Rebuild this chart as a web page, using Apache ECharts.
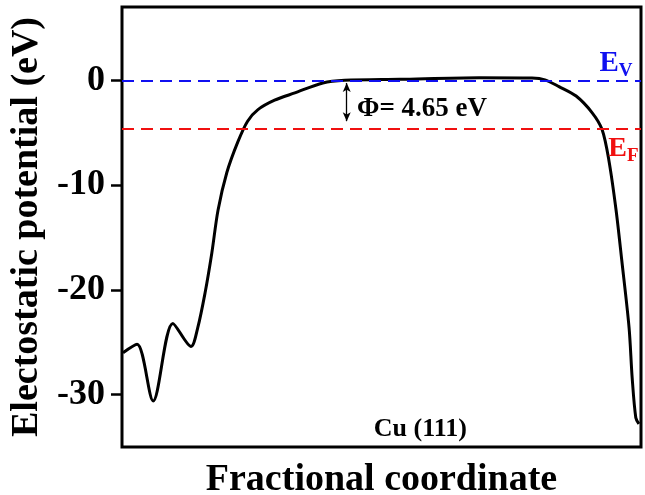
<!DOCTYPE html>
<html>
<head>
<meta charset="utf-8">
<script src="https://cdn.jsdelivr.net/npm/echarts@6/dist/echarts.min.js"></script>
<style>
  html, body { margin: 0; padding: 0; background: #fff; }
  #chart { width: 645px; height: 495px; }
</style>
</head>
<body>
<div id="chart"></div>
<script>
// fractional coordinate along the slab
var xPos = [0.002, 0.029, 0.060, 0.098, 0.133, 0.146, 0.160, 0.173, 0.185, 0.202,
            0.223, 0.242, 0.262, 0.294, 0.333, 0.387, 0.429, 0.535, 0.688, 0.790, 0.815,
            0.842, 0.875, 0.906, 0.925, 0.938, 0.952, 0.963, 0.977, 0.983, 0.990, 0.996];
// electrostatic potential (eV)
var potential = [-26.0, -25.2, -30.6, -23.2, -25.4, -23.6, -20.3, -16.5, -12.4, -8.8,
                 -5.9, -3.9, -2.8, -1.9, -1.2, -0.25, 0.0, 0.1, 0.25, 0.22, 0.05,
                 -0.6, -1.5, -3.1, -4.7, -7.6, -12.4, -17.2, -23.6, -28.4, -32.2, -32.8];
var yTicks = [-30, -20, -10, 0];
var vacuumLevel = 0;
var fermiLevel = -4.65;
var workFunction = '4.65';

var serif = '"Liberation Serif", "Times New Roman", serif';
var lineData = xPos.map(function (x, i) { return [x, potential[i]]; });
var hidden = { color: 'rgba(0,0,0,0)' };

var myChart = echarts.init(document.getElementById('chart'));
var option = {
  animation: false,
  grid: {
    left: 122, right: 4, top: 7, bottom: 48,
    outerBoundsMode: 'none',
    show: true, borderColor: '#000', borderWidth: 3, backgroundColor: 'transparent'
  },
  xAxis: {
    type: 'value', min: 0, max: 1,
    name: 'Fractional coordinate', nameLocation: 'middle', nameGap: 14,
    nameTextStyle: { fontFamily: serif, fontWeight: 'bold', fontSize: 38, color: '#000', verticalAlign: 'top' },
    axisLine: { show: false },
    axisTick: { show: false },
    axisLabel: { show: false },
    splitLine: { show: false }
  },
  yAxis: {
    type: 'value', min: -35, max: 7,
    name: 'Electostatic potential (eV)', nameLocation: 'middle', nameGap: 74,
    nameTextStyle: { fontFamily: serif, fontWeight: 'bold', fontSize: 38, color: '#000' },
    axisLine: { show: false },
    axisTick: { show: true, inside: false, length: 11, customValues: yTicks,
                lineStyle: { color: '#000', width: 2.5 } },
    axisLabel: { customValues: yTicks, margin: 17, fontFamily: serif, fontWeight: 'bold',
                 fontSize: 36, color: '#000' },
    splitLine: { show: false }
  },
  series: [{
    type: 'line',
    data: lineData,
    smooth: 0.3,
    showSymbol: false,
    lineStyle: { color: '#000', width: 3 },
    markLine: {
      silent: true,
      symbol: ['none', 'none'],
      label: { show: false },
      data: [
        { yAxis: vacuumLevel, lineStyle: { color: '#1010f0', type: [12, 7], width: 2 } },
        { yAxis: fermiLevel, lineStyle: { color: '#f01010', type: [12, 7], width: 2 } },
        [
          { coord: [0.433, -0.25], symbol: 'arrow', symbolSize: [6, 9],
            lineStyle: { color: '#000', type: 'solid', width: 1.3 } },
          { coord: [0.433, -3.9], symbol: 'arrow', symbolSize: [6, 9] }
        ]
      ]
    },
    markPoint: {
      silent: true,
      symbol: 'rect',
      symbolSize: 1,
      itemStyle: hidden,
      data: [
        { coord: [0.452, -2.75],
          label: { show: true, formatter: 'Φ= ' + workFunction + ' eV', position: 'right', distance: 0,
                   fontFamily: serif, fontWeight: 'bold', fontSize: 27, color: '#000' } },
        { coord: [0.575, -33.3],
          label: { show: true, formatter: 'Cu (111)', position: 'inside',
                   fontFamily: serif, fontWeight: 'bold', fontSize: 26, color: '#000' } },
        { coord: [0.919, 1.6],
          label: { show: true, formatter: '{e|E}{s|V}', position: 'right', distance: 0,
                   rich: {
                     e: { fontFamily: serif, fontWeight: 'bold', fontSize: 29, color: '#1010f0' },
                     s: { fontFamily: serif, fontWeight: 'bold', fontSize: 19, color: '#1010f0', padding: [16, 0, 0, 0] }
                   } } },
        { coord: [0.936, -6.5],
          label: { show: true, formatter: '{e|E}{s|F}', position: 'right', distance: 0,
                   rich: {
                     e: { fontFamily: serif, fontWeight: 'bold', fontSize: 28, color: '#f01010' },
                     s: { fontFamily: serif, fontWeight: 'bold', fontSize: 19, color: '#f01010', padding: [16, 0, 0, 0] }
                   } } }
      ]
    }
  }]
};
myChart.setOption(option);
</script>
</body>
</html>
